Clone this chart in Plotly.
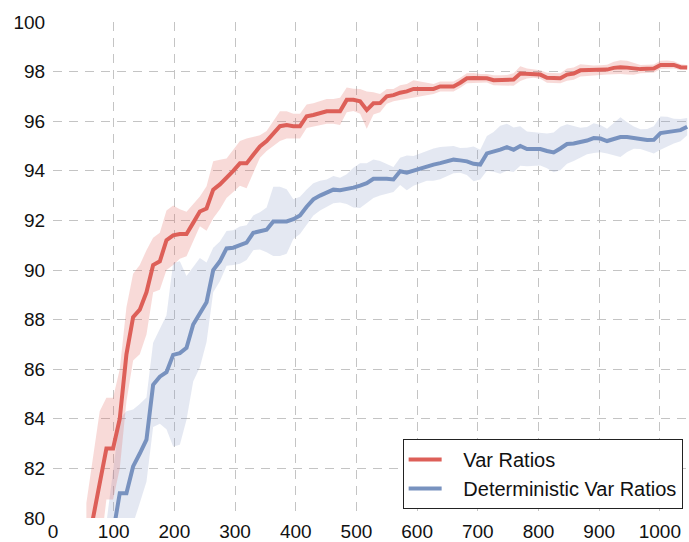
import plotly.graph_objects as go

# ---- data ----
red_x = [55, 66, 77, 88, 99, 110, 121, 132, 143, 154, 165, 176, 187, 198, 209, 220, 231, 242, 253, 264,
         275, 286, 297, 308, 319, 330, 341, 352, 363, 374, 385, 396, 407, 418, 429, 440, 451, 462, 473, 484,
         495, 506, 517, 528, 539, 550, 561, 572, 583, 594, 605, 616, 627, 638, 649, 660, 671, 682, 693, 704,
         715, 726, 737, 748, 759, 770, 781, 792, 803, 814, 825, 836, 847, 858, 869, 880, 891, 902, 913, 924,
         935, 946, 957, 968, 979, 990, 1001, 1012, 1023, 1034, 1045]
red_mean = [78.6, 80.0, 81.4, 82.8, 82.8, 84.0, 86.6, 88.1, 88.4, 89.1, 90.2, 90.35, 91.2, 91.4, 91.45, 91.45,
            91.9, 92.36, 92.48, 93.24, 93.45, 93.7, 94.0, 94.3, 94.3, 94.65, 94.98, 95.2, 95.5, 95.8, 95.85,
            95.8, 95.8, 96.2, 96.25, 96.32, 96.4, 96.4, 96.4, 96.86, 96.86, 96.8, 96.45, 96.72, 96.73, 97.0,
            97.05, 97.15, 97.2, 97.3, 97.3, 97.3, 97.3, 97.4, 97.4, 97.4, 97.55, 97.73, 97.74, 97.73, 97.73,
            97.65, 97.65, 97.66, 97.68, 97.92, 97.92, 97.92, 97.88, 97.75, 97.73, 97.73, 97.88, 97.92, 98.05,
            98.05, 98.05, 98.06, 98.08, 98.15, 98.18, 98.16, 98.12, 98.1, 98.11, 98.12, 98.27, 98.28, 98.27,
            98.18, 98.17]
red_std = [2.0, 2.5, 2.9, 2.05, 2.05, 2.0, 1.9, 1.75, 1.8, 1.7, 1.1, 1.15, 1.2, 1.2, 1.0, 0.9, 0.75, 0.6, 0.9,
           1.15, 1.0, 0.8, 0.85, 0.9, 1.0, 0.7, 0.45, 0.4, 0.5, 0.6, 0.55, 0.5, 0.5, 0.47, 0.47, 0.5, 0.5, 0.5,
           0.55, 0.5, 0.45, 0.5, 0.75, 0.45, 0.37, 0.3, 0.25, 0.3, 0.3, 0.35, 0.3, 0.25, 0.2, 0.2, 0.2, 0.2,
           0.2, 0.2, 0.2, 0.17, 0.17, 0.2, 0.2, 0.2, 0.25, 0.3, 0.2, 0.17, 0.17, 0.2, 0.2, 0.2, 0.25, 0.25,
           0.25, 0.22, 0.2, 0.2, 0.2, 0.25, 0.28, 0.28, 0.25, 0.17, 0.17, 0.17, 0.17, 0.17, 0.15, 0.12, 0.1]

blue_x = [88, 99, 110, 121, 132, 143, 154, 165, 176, 187, 198, 209, 220, 231, 242, 253, 264,
          275, 286, 297, 308, 319, 330, 341, 352, 363, 374, 385, 396, 407, 418, 429, 440, 451, 462, 473, 484,
          495, 506, 517, 528, 539, 550, 561, 572, 583, 594, 605, 616, 627, 638, 649, 660, 671, 682, 693, 704,
          715, 726, 737, 748, 759, 770, 781, 792, 803, 814, 825, 836, 847, 858, 869, 880, 891, 902, 913, 924,
          935, 946, 957, 968, 979, 990, 1001, 1012, 1023, 1034, 1045]
blue_mean = [77.8, 79.4, 81.0, 81.0, 82.08, 82.6, 83.16, 85.37, 85.7, 85.88, 86.58, 86.65, 86.86, 87.8, 88.28,
             88.7, 90.0, 90.35, 90.87, 90.9, 91.0, 91.1, 91.5, 91.58, 91.62, 91.96, 91.96, 91.96, 92.05, 92.2,
             92.55, 92.85, 93.0, 93.1, 93.24, 93.22, 93.26, 93.32, 93.4, 93.5, 93.68, 93.7, 93.68, 93.65,
             93.98, 93.92, 94.0, 94.11, 94.2, 94.25, 94.31, 94.38, 94.45, 94.42, 94.38, 94.28, 94.25, 94.7,
             94.76, 94.85, 94.95, 94.85, 95.0, 94.88, 94.88, 94.88, 94.8, 94.74, 94.9, 95.08, 95.1, 95.14,
             95.22, 95.32, 95.3, 95.2, 95.28, 95.36, 95.36, 95.34, 95.28, 95.24, 95.25, 95.52, 95.58, 95.6,
             95.64, 95.78]
blue_std = [2.0, 2.5, 3.0, 3.3, 2.3, 2.0, 1.7, 1.7, 1.9, 2.3, 3.7, 3.7, 2.9, 2.3, 2.2, 1.6, 0.9, 0.8, 0.7, 0.7,
            0.75, 0.7, 0.7, 0.75, 0.9, 1.4, 1.4, 1.3, 0.8, 0.75, 0.7, 0.65, 0.6, 0.55, 0.55, 0.5, 0.6, 0.8, 0.9,
            0.8, 0.78, 0.7, 0.6, 0.5, 0.55, 0.7, 0.6, 0.6, 0.6, 0.65, 0.65, 0.6, 0.55, 0.5, 0.55, 0.7, 0.6, 0.7,
            0.8, 0.97, 0.95, 0.9, 0.8, 0.7, 0.67, 0.67, 0.7, 0.8, 0.88, 0.8, 0.7, 0.6, 0.55, 0.6, 0.55, 0.5,
            0.65, 0.8, 0.6, 0.45, 0.4, 0.45, 0.55, 0.67, 0.6, 0.5, 0.45, 0.35]

x_ticks = [0, 100, 200, 300, 400, 500, 600, 700, 800, 900, 1000]
y_ticks = [80, 82, 84, 86, 88, 90, 92, 94, 96, 98, 100]

RED = "#DD5F58"
BLUE = "#7892BF"
RED_FILL = "rgba(226,100,94,0.24)"
BLUE_FILL = "rgba(130,150,195,0.22)"
FONT = "Liberation Sans, Arial, Helvetica, sans-serif"
PAD = "\u00a0\u00a0\u00a0"

fig = go.Figure()


def add_band(x, mean, std, fill):
    lo = [m - s for m, s in zip(mean, std)]
    hi = [m + s for m, s in zip(mean, std)]
    fig.add_trace(go.Scatter(x=x, y=lo, mode="lines", line=dict(width=0, color=fill),
                             showlegend=False, hoverinfo="skip"))
    fig.add_trace(go.Scatter(x=x, y=hi, mode="lines", line=dict(width=0, color=fill),
                             fill="tonexty", fillcolor=fill, showlegend=False, hoverinfo="skip"))


add_band(blue_x, blue_mean, blue_std, BLUE_FILL)
add_band(red_x, red_mean, red_std, RED_FILL)

fig.add_trace(go.Scatter(x=blue_x, y=blue_mean, mode="lines", name=PAD + "Deterministic Var Ratios",
                         line=dict(color=BLUE, width=4), legendrank=2))
fig.add_trace(go.Scatter(x=red_x, y=red_mean, mode="lines", name=PAD + "Var Ratios",
                         line=dict(color=RED, width=4), legendrank=1))

common = dict(showgrid=True, gridcolor="#c4c4c4", gridwidth=1.2, griddash="9px,7px",
              zeroline=False, showline=False, automargin=False,
              tickfont=dict(family=FONT, size=19, color="#111"))

fig.update_xaxes(range=[0, 1048], tickvals=x_ticks, ticktext=[str(v) for v in x_ticks],
                 ticks="", ticklen=0, **common)
fig.update_yaxes(range=[80, 100], tickvals=y_ticks, ticktext=[str(v) for v in y_ticks],
                 ticks="outside", ticklen=3, tickcolor="rgba(0,0,0,0)", **common)

fig.update_layout(
    width=689, height=542, autosize=False,
    margin=dict(l=53, r=0, t=22, b=24, pad=0),
    paper_bgcolor="white", plot_bgcolor="white",
    font=dict(family=FONT, size=19, color="#111"),
    legend=dict(x=0.99, y=0.018, xanchor="right", yanchor="bottom",
                traceorder="normal", itemwidth=33,
                bgcolor="white", bordercolor="#222", borderwidth=1,
                font=dict(family=FONT, size=20, color="#111"), tracegroupgap=0),
    showlegend=True,
)

fig.write_html("out.html", config={"displayModeBar": False},
               post_script="document.body.style.margin='0';document.body.style.overflow='hidden';")
